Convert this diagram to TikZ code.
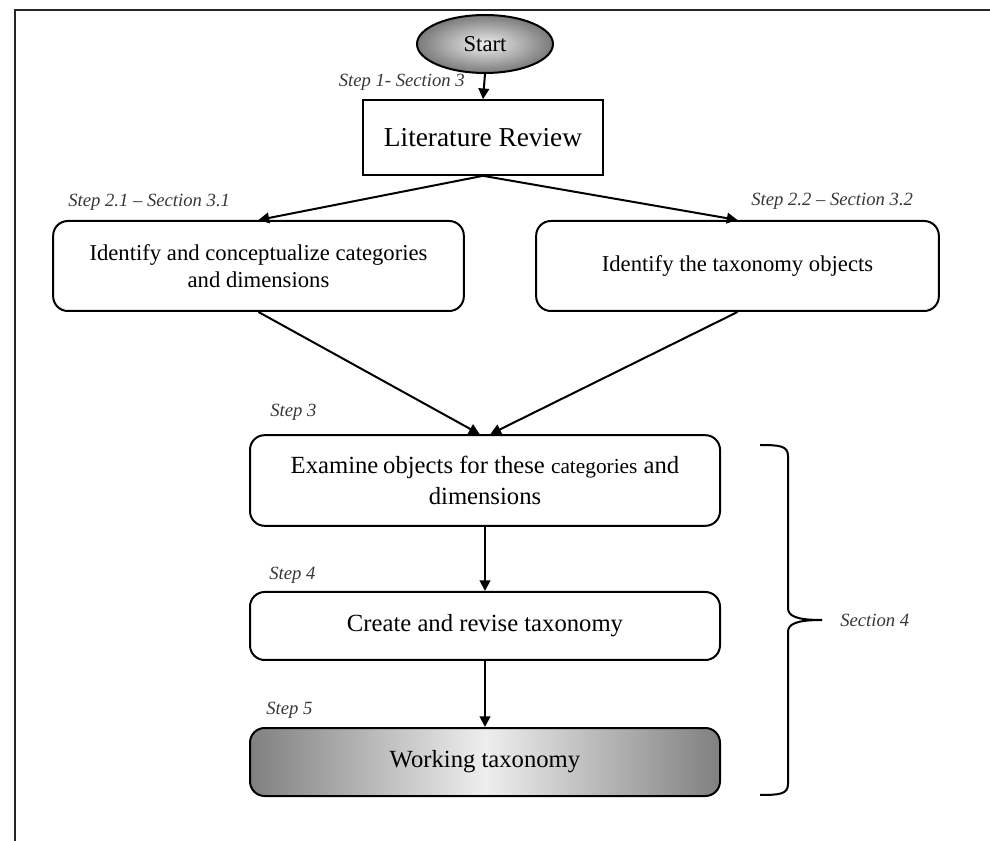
\documentclass[tikz,border=0pt]{standalone}
\usepackage{fontspec}
\setmainfont{Liberation Serif}
\usetikzlibrary{arrows.meta,shapes.geometric}
\definecolor{edgegray}{RGB}{128,128,128}
\definecolor{midgray}{RGB}{238,238,238}
\definecolor{labelgray}{RGB}{55,55,55}
\tikzset{
  frame/.style={line width=1.4pt,draw=black!85},
  boxbase/.style={draw=black,line width=1.5pt,align=center,inner sep=2pt},
  litbox/.style={boxbase,rectangle,minimum width=180pt,minimum height=56pt,font=\fontsize{20.5}{24}\selectfont},
  roundbox/.style={boxbase,rectangle,rounded corners=11pt},
  smallbox/.style={roundbox,font=\fontsize{17}{20}\selectfont},
  bigbox/.style={roundbox,font=\fontsize{18.5}{23}\selectfont},
  startnode/.style={draw=black,line width=1.5pt,ellipse,minimum width=102pt,minimum height=43.5pt,
     inner color=midgray,outer color=edgegray!95!black,font=\fontsize{17}{18}\selectfont},
  steplabel/.style={font=\fontsize{14}{16}\selectfont\itshape,text=labelgray,inner sep=0pt},
  flow/.style={line width=1.5pt,-{Triangle[length=8pt,width=8pt]}},
  bracestyle/.style={line width=1.5pt},
}
\begin{document}
\begin{tikzpicture}[x=0.75pt,y=-0.75pt]
\useasboundingbox (0,0) rectangle (990,841);
\draw[frame] (15,841) -- (15,10) -- (990,10);

\node[startnode] (start) at (485,44) {Start};
\node[litbox] (lit) at (483,137.5) {Literature Review};
\node[smallbox,minimum width=308pt,minimum height=67.5pt] (b21) at (258.5,266)
  {Identify and conceptualize categories\\and dimensions};
\node[smallbox,minimum width=302pt,minimum height=67.5pt] (b22) at (737.5,266)
  {Identify the taxonomy objects};
\node[bigbox,minimum width=352.5pt,minimum height=68pt] (b3) at (485,480.5)
  {Examine\hspace{-1pt} objects for these {\fontsize{16}{23}\selectfont categories} and\\dimensions};
\node[bigbox,minimum width=352.5pt,minimum height=51pt] (b4) at (485,626)
  {Create and revise taxonomy};
\node[bigbox,minimum width=352.5pt,minimum height=51pt,left color=edgegray,right color=edgegray,middle color=midgray] (b5) at (485,762)
  {Working taxonomy};

\draw[flow] (start.south) -- (lit.north);
\draw[flow] (lit.south) -- (b21.north);
\draw[flow] (lit.south) -- (b22.north);
\draw[flow] (b21.south) -- ([xshift=-4pt]b3.north);
\draw[flow] (b22.south) -- ([xshift=4pt]b3.north);
\draw[flow] (b3.south) -- (b4.north);
\draw[flow] (b4.south) -- (b5.north);

\node[steplabel,anchor=east] (l1) at (465,82) {Step 1- Section 3};
\node[steplabel,anchor=west] (l21) at (68,202) {Step 2.1 -- Section 3.1};
\node[steplabel,anchor=west] (l22) at (751,201) {Step 2.2 -- Section 3.2};
\node[steplabel,anchor=west] (l3) at (270,412) {Step 3};
\node[steplabel,anchor=west] (l4) at (269,575) {Step 4};
\node[steplabel,anchor=west] (l5) at (266,710) {Step 5};

\coordinate (btip) at (822,620);
\draw[bracestyle] (760,445) .. controls (780,445) and (788,446) .. (788,456) -- (788,608)
   .. controls (788,616) and (796,620) .. (btip);
\draw[bracestyle] (btip) .. controls (796,620) and (788,624) .. (788,632) -- (788,784)
   .. controls (788,794) and (780,795) .. (760,795);
\node[steplabel,anchor=west] (s4) at (840,620) {Section 4};
\end{tikzpicture}
\end{document}
